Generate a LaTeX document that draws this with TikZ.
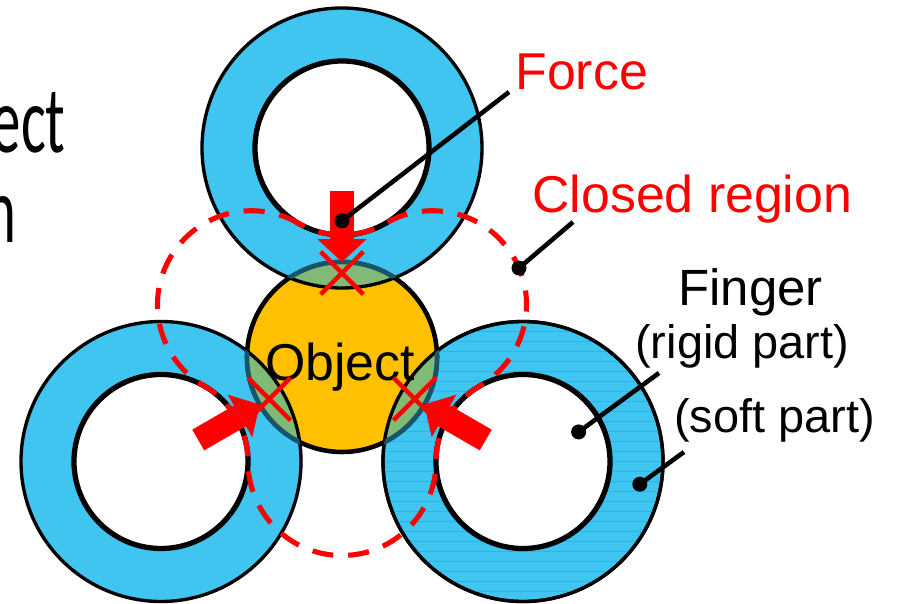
\documentclass[tikz,border=0pt]{standalone}
\usepackage{graphicx}
\usepackage{fontspec}
\setmainfont{Liberation Sans}
\newfontfamily\slidefont{Carlito}
\usetikzlibrary{calc,arrows.meta,shapes.misc}

\definecolor{fingerblue}{RGB}{64,196,240}
\definecolor{stripeblue}{RGB}{38,182,236}
\definecolor{objyellow}{RGB}{255,192,0}
\definecolor{overlapgreen}{RGB}{128,186,118}
\definecolor{overlapedge}{RGB}{25,85,105}

\begin{document}
\begin{tikzpicture}[
    x=0.02cm, y=0.02cm,
    ringout/.style={draw=black, fill=fingerblue, line width=1.9pt},
    ringin/.style={draw=black, fill=white, line width=3pt},
    stripe/.style={draw=stripeblue, line width=0.5pt},
    objdisc/.style={draw=black, fill=objyellow, line width=2.6pt},
    overlap/.style={fill=overlapgreen},
    closedline/.style={draw=red, line width=2.9pt, dash pattern=on 12pt off 8.5pt},
    forcearrow/.style={draw=red, line width=13.6pt, -{Triangle[length=13pt, width=28pt, line width=0pt]}},
    contact/.style={cross out, draw=red, line width=2.6pt, minimum size=0.76cm, inner sep=0pt},
    pointer/.style={draw=black, line width=2.6pt},
    pdot/.style={fill=black},
    lbl/.style={inner sep=0pt, anchor=base west, font=\fontsize{29.5}{34}\selectfont},
    sublbl/.style={lbl, font=\fontsize{26.7}{31}\selectfont},
    slidetxt/.style={inner sep=0pt, anchor=base east, font=\slidefont\fontsize{54}{60}\selectfont}
]
    \useasboundingbox (0,0) rectangle (899,603);

    % 1. Slide text cut at the left edge
    \node[slidetxt] (txt1) at (66,451) {\scalebox{0.62}[1]{ect}};
    \node[slidetxt] (txt2) at (17,361) {\scalebox{0.62}[1]{n}};

    % 2. Centres
    \coordinate (obj) at (342,246);
    \coordinate (ft) at ($(obj)+(90:209)$);
    \coordinate (fl) at ($(obj)+(210:209)$);
    \coordinate (fr) at ($(obj)+(330:209)$);
    \coordinate (ml) at ($(obj)+(150:104.5)$);
    \coordinate (mb) at ($(obj)+(270:104.5)$);
    \coordinate (mr) at ($(obj)+(30:104.5)$);

    % 3. Fingers
    \foreach \f in {ft,fl,fr}
        \draw[ringout] (\f) circle[radius=140];
    \begin{scope}
        \clip (fr) circle[radius=139];
        \foreach \k in {0,...,28}
            \draw[stripe] ($(fr)+(-140,-140+10*\k)$) -- ++(280,0);
    \end{scope}
    \draw[black, line width=1.9pt] (fr) circle[radius=140];
    \foreach \f in {ft,fl,fr}
        \draw[ringin] (\f) circle[radius=87];

    % 4. Object
    \draw[objdisc] (obj) circle[radius=95];
    \foreach \f in {ft,fl,fr} {
        \begin{scope}
            \clip (obj) circle[radius=95];
            \fill[overlap] (\f) circle[radius=140];
            \draw[black, line width=1.9pt] (\f) circle[radius=140];
        \end{scope}
        \begin{scope}
            \clip (\f) circle[radius=140];
            \draw[overlapedge, line width=2.6pt] (obj) circle[radius=95];
        \end{scope}
    }

    % 5. Closed region
    \draw[closedline] ($(ml)+(60:94)$)
        arc[start angle=60, end angle=240, radius=94]
        arc[start angle=60, end angle=0, radius=87]
        arc[start angle=180, end angle=360, radius=94]
        arc[start angle=180, end angle=120, radius=87]
        arc[start angle=-60, end angle=120, radius=94]
        arc[start angle=-60, end angle=-120, radius=87] -- cycle;

    \node[inner sep=0pt, anchor=base, font=\fontsize{29.5}{34}\selectfont] (objlbl) at ($(obj)+(-2,-23)$) {Object};

    % 6. Contacts and forces
    \foreach \a/\n in {90/t,210/l,330/r} {
        \coordinate (tail\n) at ($(obj)+(\a:166)$);
        \coordinate (tip\n) at ($(obj)+(\a:95)$);
        \draw[forcearrow] (tail\n) -- (tip\n);
        \node[contact] (x\n) at ($(obj)+(\a:84)$) {};
    }

    % 7. Labels
    \node[lbl, text=red] (force) at (515,514) {Force};
    \node[lbl, text=red] (closed) at (532,391) {Closed region};
    \node[lbl, font=\fontsize{29}{34}\selectfont] (finger) at (678,298) {Finger};
    \node[sublbl] (rigid) at (635,245) {(rigid part)};
    \node[sublbl] (soft) at (674,171) {(soft part)};

    % Pointers
    \coordinate (forcedot) at ($(tailt)!0.42!(tipt)$);
    \coordinate (closeddot) at ($(mr)+(23:94)$);
    \coordinate (rigiddot) at ($(fr)+(28:63)$);
    \coordinate (softdot) at ($(fr)+(-11:119)$);
    \draw[pointer] (forcedot) -- ($(force.base west)+(-6,-3)$);
    \draw[pointer] (closeddot) -- ($(closed.base west)+(41,-10)$);
    \draw[pointer] (rigiddot) -- ($(rigid.base west)+(24,-15)$);
    \draw[pointer] (softdot) -- ($(soft.base west)+(10,-20)$);
    \foreach \d in {forcedot,closeddot,rigiddot,softdot}
        \fill[pdot] (\d) circle[radius=7.5];

\end{tikzpicture}
\end{document}
